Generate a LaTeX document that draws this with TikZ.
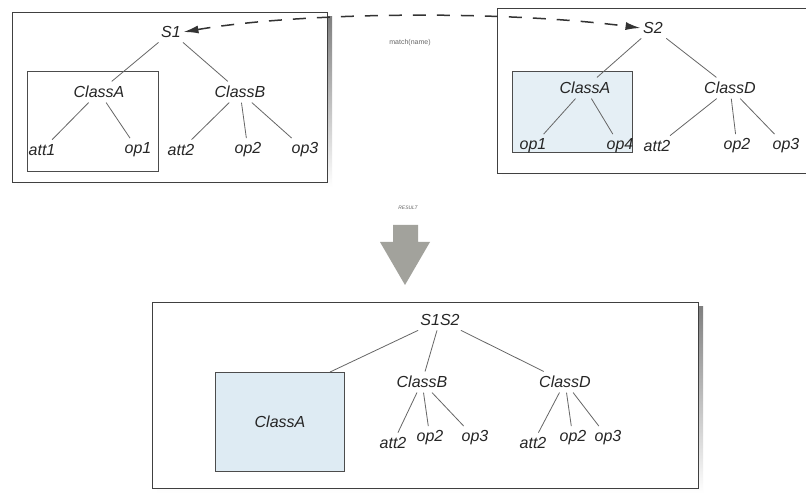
\documentclass[tikz,border=0pt]{standalone}
\usepackage{fontspec}
\setmainfont{Liberation Sans}
\usetikzlibrary{arrows.meta}
\definecolor{shade}{RGB}{150,150,146}
\definecolor{paleblue}{RGB}{222,235,243}
\definecolor{bigarrow}{RGB}{162,162,156}
\tikzset{
lbl/.style={font=\fontsize{16}{18}\selectfont\itshape,text=black!85,inner sep=4.5pt},
edge/.style={draw=black!60,line width=0.8pt},
frame/.style={draw=black!75,fill=white,line width=0.8pt},
inbox/.style={draw=black!70,line width=0.9pt},
}
% shadowed panel: x1,y1,x2,y2
\newcommand{\kpanel}[4]{%
\fill[shade](#1+5,#2+5)rectangle(#3+5,#4+5);
\draw[frame](#1,#2)rectangle(#3,#4);}
\begin{document}
\begin{tikzpicture}[x=1pt,y=-1pt]
\useasboundingbox(0,0)rectangle(806,494);
\clip(0,0)rectangle(806,494);
\fill[white](0,0)rectangle(806,494);
% panels
\kpanel{12}{12}{327}{182}
\kpanel{497}{8}{812}{173}
\kpanel{152}{302}{698}{488}
\draw[inbox,fill=white](27,71)rectangle(158,171);
\draw[inbox,fill=paleblue!80](512,71)rectangle(632,152);
% schema S1
\node[lbl](s1)at(171,32){S1};
\node[lbl](a1)at(99,92){ClassA};
\node[lbl](b1)at(240,92){ClassB};
\foreach \nm/\kx/\lb in {att1/42/att1,op1a/138/op1,att2b/181/att2,op2b/248/op2,op3b/305/op3}{\node[lbl](\nm)at(\kx,150){\lb};}
% schema S2
\node[lbl](s2)at(653,28){S2};
\node[lbl](a2)at(585,88){ClassA};
\node[lbl](d2)at(730,88){ClassD};
\foreach \nm/\kx/\lb in {op1c/533/op1,op4c/620/op4,att2d/657/att2,op2d/737/op2,op3d/786/op3}{\node[lbl](\nm)at(\kx,146){\lb};}
% merged schema
\node[lbl](s12)at(440,320){S1S2};
\node[lbl,inbox,fill=paleblue,minimum width=129pt,minimum height=99pt](a3)at(280,422){ClassA};
\node[lbl](b3)at(422,382){ClassB};
\node[lbl](d3)at(565,382){ClassD};
\foreach \nm/\kx/\ky/\lb in {att2e/393/443/att2,op2e/430/438/op2,op3e/475/438/op3,att2f/533/443/att2,op2f/573/438/op2,op3f/608/438/op3}{\node[lbl](\nm)at(\kx,\ky){\lb};}
\coordinate(a3c)at([xshift=-15pt]a3.north east);
% tree edges
\foreach \pa/\ch in {s1/a1,s1/b1,a1/att1,a1/op1a,b1/att2b,b1/op2b,b1/op3b,s2/a2,s2/d2,a2/op1c,a2/op4c,d2/att2d,d2/op2d,d2/op3d,s12/a3c,s12/b3,s12/d3,b3/att2e,b3/op2e,b3/op3e,d3/att2f,d3/op2f,d3/op3f}{\draw[edge](\pa)--(\ch);}
% match link
\draw[black!80,line width=1.5pt,dash pattern=on 13pt off 11pt,{Latex[length=15pt,width=8pt]}-{Latex[length=15pt,width=8pt]}]([xshift=-2pt]s1.east)..controls(300,12)and(500,10)..([xshift=2pt]s2.west);
\node[font=\fontsize{7}{8}\selectfont,text=black!60](match)at(410,43){match(name)};
% result arrow
\node[font=\fontsize{5}{6}\selectfont\itshape,text=black!60](res)at(408,208){RESULT};
\fill[bigarrow](393,225)--(418,225)--(418,242)--(430,242)--(405,285)--(380,242)--(393,242)--cycle;
\end{tikzpicture}
\end{document}
